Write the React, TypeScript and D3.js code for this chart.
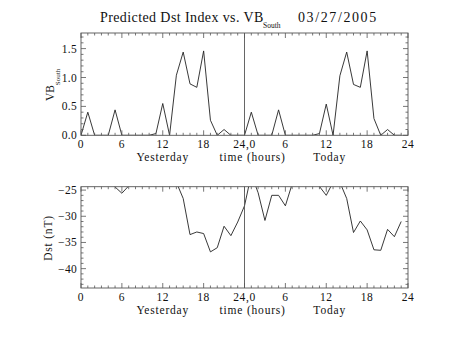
import React from "react";
import * as d3 from "d3";

const hours: number[] = d3.range(48);
const vbYesterday = [0, 0.4, 0, 0, 0, 0.44, 0, 0, 0, 0, 0, 0.03, 0.55, 0, 1.04, 1.44, 0.89, 0.83, 1.46, 0.26, 0, 0.1, 0, 0];
const vbToday = [0, 0.4, 0, 0, 0, 0.44, 0, 0, 0, 0, 0, 0.03, 0.54, 0, 1.03, 1.44, 0.88, 0.83, 1.46, 0.29, 0, 0.1, 0, 0];
const dstYesterday = [-22, -21, -21, -22, -23, -24.4, -25.6, -24.2, -22, -21, -21, -21, -22, -22, -23.5, -26.6, -33.5, -33.0, -33.3, -36.8, -36.0, -31.9, -33.7, -31.1];
const dstToday = [-28.0, -22, -25.5, -30.8, -26, -26, -28, -23.8, -21, -21, -22, -24.3, -26, -23.5, -23.5, -26.6, -33.1, -30.9, -32.6, -36.4, -36.5, -32.5, -33.9, -31.0];
const xTickValues = [0, 6, 12, 18, 24, 30, 36, 42, 48];
const xTickLabels = ["0", "6", "12", "18", "24,0", "6", "12", "18", "24"];
const vbTicks = [0, 0.5, 1.0, 1.5];
const dstTicks = [-25, -30, -35, -40];

const W = 453, H = 340;
const left = 81, right = 408;
const FONT = "'Liberation Serif', 'DejaVu Serif', serif";
const AX = "#555";
const LN = "#222";

const x = d3.scaleLinear().domain([0, 48]).range([left, right]);

function Panel(props: {
  top: number; bottom: number; domain: [number, number]; values: number[];
  yTicks: number[]; yMinorStep: number; fmt: (v: number) => string; id: string;
  ylabel: React.ReactNode;
}) {
  const { top, bottom, domain, values, yTicks, yMinorStep, fmt, id } = props;
  const y = d3.scaleLinear().domain(domain).range([bottom, top]);
  const line = d3.line<number>().x((_, i) => x(hours[i])).y((v) => y(v));
  const minorX = d3.range(0, 49, 1);
  const lo = Math.ceil(domain[0] / yMinorStep - 1e-6);
  const hi = Math.floor(domain[1] / yMinorStep + 1e-6);
  const minorY = d3.range(lo, hi + 1).map((k) => k * yMinorStep);
  return (
    <g>
      <defs>
        <clipPath id={id}>
          <rect x={left} y={top} width={right - left} height={bottom - top} />
        </clipPath>
      </defs>
      <path d={line(values) || ""} fill="none" stroke={LN} strokeWidth={0.9} clipPath={`url(#${id})`} />
      <line x1={x(24)} x2={x(24)} y1={top} y2={bottom} stroke={AX} strokeWidth={0.9} />
      <rect x={left} y={top} width={right - left} height={bottom - top} fill="none" stroke={AX} strokeWidth={0.9} />
      {minorX.map((h) => {
        const major = h % 6 === 0;
        const len = major ? 5 : 2.5;
        return (
          <g key={"mx" + h}>
            <line x1={x(h)} x2={x(h)} y1={bottom} y2={bottom - len} stroke={AX} strokeWidth={0.8} />
            <line x1={x(h)} x2={x(h)} y1={top} y2={top + len} stroke={AX} strokeWidth={0.8} />
          </g>
        );
      })}
      {minorY.map((v) => {
        const major = yTicks.some((t) => Math.abs(t - v) < 1e-6);
        const len = major ? 5 : 2.5;
        return (
          <g key={"my" + v}>
            <line x1={left} x2={left + len} y1={y(v)} y2={y(v)} stroke={AX} strokeWidth={0.8} />
            <line x1={right} x2={right - len} y1={y(v)} y2={y(v)} stroke={AX} strokeWidth={0.8} />
          </g>
        );
      })}
      {yTicks.map((t) => (
        <text key={"yt" + t} x={left - 4} y={y(t) + 4} textAnchor="end" fontSize={11.5} fontFamily={FONT} fill="#111" letterSpacing={0.3}>
          {fmt(t)}
        </text>
      ))}
      {xTickValues.map((t, i) => (
        <text key={"xt" + t} x={x(t)} y={bottom + 12.5} textAnchor="middle" fontSize={11.5} fontFamily={FONT} fill="#111" letterSpacing={0.6}>
          {xTickLabels[i]}
        </text>
      ))}
      <text x={x(12)} y={bottom + 25.5} textAnchor="middle" fontSize={11.5} fontFamily={FONT} fill="#111" letterSpacing={0.8}>Yesterday</text>
      <text x={x(25.2)} y={bottom + 25.5} textAnchor="middle" fontSize={11.5} fontFamily={FONT} fill="#111" letterSpacing={0.8}>time (hours)</text>
      <text x={x(36.5)} y={bottom + 25.5} textAnchor="middle" fontSize={11.5} fontFamily={FONT} fill="#111" letterSpacing={0.8}>Today</text>
      {props.ylabel}
    </g>
  );
}

export default function App() {
  const vb = [...vbYesterday, ...vbToday];
  const dst = [...dstYesterday, ...dstToday];
  return (
    <svg width={W} height={H} style={{ position: "absolute", left: 0, top: 0, background: "#fff" }}>
      <rect width={W} height={H} fill="#fff" />
      <text x={100} y={22} fontSize={14} fontFamily={FONT} fill="#111" letterSpacing={0.4}>
        Predicted Dst Index vs. VB
      </text>
      <text x={263} y={28} fontSize={7.5} fontFamily={FONT} fill="#111">South</text>
      <text x={298} y={22} fontSize={14} fontFamily={FONT} fill="#111" letterSpacing={1.6}>03/27/2005</text>
      <Panel
        id="c1" top={33} bottom={135.3} domain={[0, 1.77]} values={vb}
        yTicks={vbTicks} yMinorStep={0.1} fmt={(v) => v.toFixed(1)}
        ylabel={
          <g transform="rotate(-90)">
            <text x={-93} y={54} fontSize={11.5} fontFamily={FONT} fill="#111" textAnchor="middle">VB</text>
            <text x={-77} y={60} fontSize={7} fontFamily={FONT} fill="#111" textAnchor="middle">South</text>
          </g>
        }
      />
      <Panel
        id="c2" top={186.7} bottom={288} domain={[-43.7, -24.35]} values={dst}
        yTicks={dstTicks} yMinorStep={1} fmt={(v) => "\u2212" + Math.abs(v)}
        ylabel={
          <text transform="translate(52,238) rotate(-90)" fontSize={11.5} fontFamily={FONT} fill="#111" textAnchor="middle" letterSpacing={0.8}>
            Dst (nT)
          </text>
        }
      />
    </svg>
  );
}
